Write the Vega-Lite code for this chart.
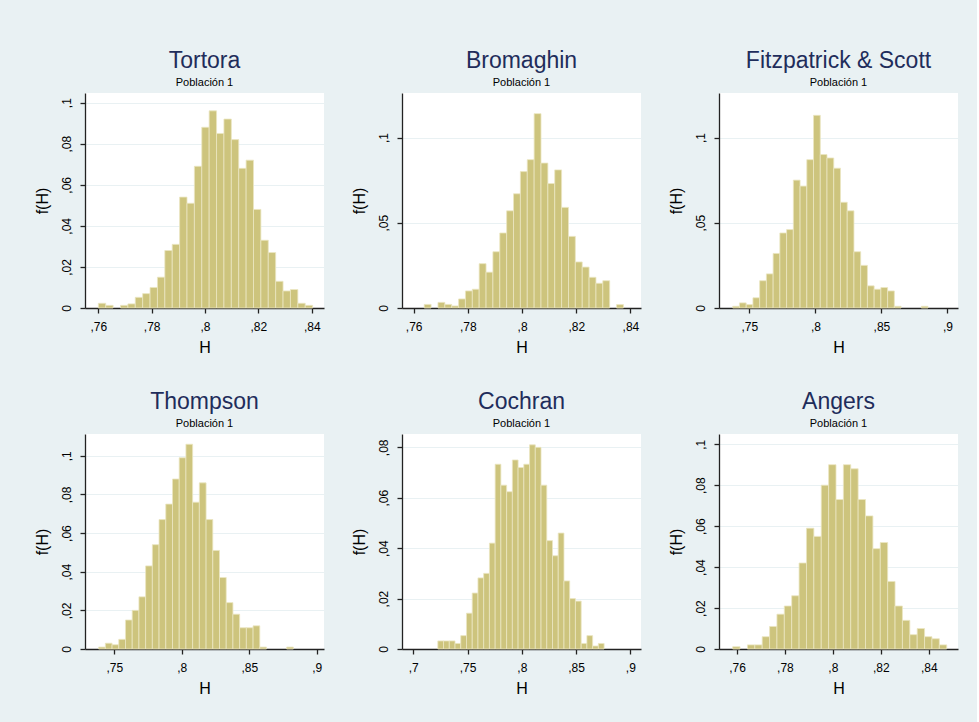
{
  "$schema": "https://vega.github.io/schema/vega-lite/v6.json",
  "padding": {"left": 33, "top": 50, "right": 19, "bottom": 31},
  "background": "#e9f1f3",
  "datasets": {
    "tortora": [
      {"x0": 0.76, "x1": 0.76277, "f": 0.0023},
      {"x0": 0.76277, "x1": 0.76554, "f": 0.0013},
      {"x0": 0.76831, "x1": 0.77108, "f": 0.0013},
      {"x0": 0.77108, "x1": 0.77385, "f": 0.002},
      {"x0": 0.77385, "x1": 0.77662, "f": 0.0052},
      {"x0": 0.77662, "x1": 0.77939, "f": 0.007},
      {"x0": 0.77939, "x1": 0.78216, "f": 0.010},
      {"x0": 0.78216, "x1": 0.78493, "f": 0.015},
      {"x0": 0.78493, "x1": 0.7877, "f": 0.028},
      {"x0": 0.7877, "x1": 0.79047, "f": 0.031},
      {"x0": 0.79047, "x1": 0.79324, "f": 0.054},
      {"x0": 0.79324, "x1": 0.79601, "f": 0.051},
      {"x0": 0.79601, "x1": 0.79878, "f": 0.069},
      {"x0": 0.79878, "x1": 0.80155, "f": 0.088},
      {"x0": 0.80155, "x1": 0.80432, "f": 0.096},
      {"x0": 0.80432, "x1": 0.80709, "f": 0.085},
      {"x0": 0.80709, "x1": 0.80986, "f": 0.092},
      {"x0": 0.80986, "x1": 0.81263, "f": 0.082},
      {"x0": 0.81263, "x1": 0.8154, "f": 0.068},
      {"x0": 0.8154, "x1": 0.81817, "f": 0.072},
      {"x0": 0.81817, "x1": 0.82094, "f": 0.048},
      {"x0": 0.82094, "x1": 0.82371, "f": 0.033},
      {"x0": 0.82371, "x1": 0.82648, "f": 0.027},
      {"x0": 0.82648, "x1": 0.82925, "f": 0.013},
      {"x0": 0.82925, "x1": 0.83202, "f": 0.0083},
      {"x0": 0.83202, "x1": 0.83479, "f": 0.009},
      {"x0": 0.83479, "x1": 0.83756, "f": 0.0023},
      {"x0": 0.83756, "x1": 0.84033, "f": 0.0013}
    ],
    "bromaghin": [
      {"x0": 0.7639, "x1": 0.76644, "f": 0.0021},
      {"x0": 0.76897, "x1": 0.77151, "f": 0.0033},
      {"x0": 0.77151, "x1": 0.77404, "f": 0.0021},
      {"x0": 0.77404, "x1": 0.77658, "f": 0.0012},
      {"x0": 0.77658, "x1": 0.77911, "f": 0.0053},
      {"x0": 0.77911, "x1": 0.78165, "f": 0.010},
      {"x0": 0.78165, "x1": 0.78418, "f": 0.011},
      {"x0": 0.78418, "x1": 0.78672, "f": 0.026},
      {"x0": 0.78672, "x1": 0.78925, "f": 0.021},
      {"x0": 0.78925, "x1": 0.79179, "f": 0.033},
      {"x0": 0.79179, "x1": 0.79432, "f": 0.044},
      {"x0": 0.79432, "x1": 0.79686, "f": 0.057},
      {"x0": 0.79686, "x1": 0.79939, "f": 0.067},
      {"x0": 0.79939, "x1": 0.80193, "f": 0.080},
      {"x0": 0.80193, "x1": 0.80446, "f": 0.087},
      {"x0": 0.80446, "x1": 0.807, "f": 0.114},
      {"x0": 0.807, "x1": 0.80953, "f": 0.085},
      {"x0": 0.80953, "x1": 0.81207, "f": 0.073},
      {"x0": 0.81207, "x1": 0.8146, "f": 0.081},
      {"x0": 0.8146, "x1": 0.81714, "f": 0.059},
      {"x0": 0.81714, "x1": 0.81967, "f": 0.042},
      {"x0": 0.81967, "x1": 0.82221, "f": 0.027},
      {"x0": 0.82221, "x1": 0.82474, "f": 0.024},
      {"x0": 0.82474, "x1": 0.82728, "f": 0.018},
      {"x0": 0.82728, "x1": 0.82981, "f": 0.0145},
      {"x0": 0.82981, "x1": 0.83235, "f": 0.016},
      {"x0": 0.83488, "x1": 0.83742, "f": 0.002}
    ],
    "fitzpatrick": [
      {"x0": 0.7374, "x1": 0.7425, "f": 0.001},
      {"x0": 0.7425, "x1": 0.7476, "f": 0.003},
      {"x0": 0.7476, "x1": 0.7527, "f": 0.002},
      {"x0": 0.7527, "x1": 0.7578, "f": 0.006},
      {"x0": 0.7578, "x1": 0.7629, "f": 0.016},
      {"x0": 0.7629, "x1": 0.768, "f": 0.020},
      {"x0": 0.768, "x1": 0.7731, "f": 0.032},
      {"x0": 0.7731, "x1": 0.7782, "f": 0.044},
      {"x0": 0.7782, "x1": 0.7833, "f": 0.046},
      {"x0": 0.7833, "x1": 0.7884, "f": 0.075},
      {"x0": 0.7884, "x1": 0.7935, "f": 0.0715},
      {"x0": 0.7935, "x1": 0.7986, "f": 0.087},
      {"x0": 0.7986, "x1": 0.8037, "f": 0.113},
      {"x0": 0.8037, "x1": 0.8088, "f": 0.090},
      {"x0": 0.8088, "x1": 0.8139, "f": 0.088},
      {"x0": 0.8139, "x1": 0.819, "f": 0.082},
      {"x0": 0.819, "x1": 0.8241, "f": 0.062},
      {"x0": 0.8241, "x1": 0.8292, "f": 0.057},
      {"x0": 0.8292, "x1": 0.8343, "f": 0.033},
      {"x0": 0.8343, "x1": 0.8394, "f": 0.025},
      {"x0": 0.8394, "x1": 0.8445, "f": 0.013},
      {"x0": 0.8445, "x1": 0.8496, "f": 0.011},
      {"x0": 0.8496, "x1": 0.8547, "f": 0.012},
      {"x0": 0.8547, "x1": 0.8598, "f": 0.010},
      {"x0": 0.8598, "x1": 0.8649, "f": 0.001},
      {"x0": 0.8802, "x1": 0.8853, "f": 0.001}
    ],
    "thompson": [
      {"x0": 0.7384, "x1": 0.74338, "f": 0.001},
      {"x0": 0.74338, "x1": 0.74835, "f": 0.003},
      {"x0": 0.74835, "x1": 0.75333, "f": 0.0022},
      {"x0": 0.75333, "x1": 0.7583, "f": 0.005},
      {"x0": 0.7583, "x1": 0.76328, "f": 0.015},
      {"x0": 0.76328, "x1": 0.76826, "f": 0.020},
      {"x0": 0.76826, "x1": 0.77323, "f": 0.027},
      {"x0": 0.77323, "x1": 0.77821, "f": 0.043},
      {"x0": 0.77821, "x1": 0.78318, "f": 0.054},
      {"x0": 0.78318, "x1": 0.78816, "f": 0.067},
      {"x0": 0.78816, "x1": 0.79314, "f": 0.075},
      {"x0": 0.79314, "x1": 0.79811, "f": 0.088},
      {"x0": 0.79811, "x1": 0.80309, "f": 0.099},
      {"x0": 0.80309, "x1": 0.80806, "f": 0.106},
      {"x0": 0.80806, "x1": 0.81304, "f": 0.076},
      {"x0": 0.81304, "x1": 0.81802, "f": 0.086},
      {"x0": 0.81802, "x1": 0.82299, "f": 0.067},
      {"x0": 0.82299, "x1": 0.82797, "f": 0.051},
      {"x0": 0.82797, "x1": 0.83294, "f": 0.037},
      {"x0": 0.83294, "x1": 0.83792, "f": 0.024},
      {"x0": 0.83792, "x1": 0.8429, "f": 0.018},
      {"x0": 0.8429, "x1": 0.84787, "f": 0.011},
      {"x0": 0.84787, "x1": 0.85285, "f": 0.011},
      {"x0": 0.85285, "x1": 0.85782, "f": 0.012},
      {"x0": 0.85782, "x1": 0.8628, "f": 0.001},
      {"x0": 0.87773, "x1": 0.8827, "f": 0.001}
    ],
    "cochran": [
      {"x0": 0.7226, "x1": 0.72788, "f": 0.0032},
      {"x0": 0.72788, "x1": 0.73317, "f": 0.0032},
      {"x0": 0.73317, "x1": 0.73845, "f": 0.0032},
      {"x0": 0.73845, "x1": 0.74373, "f": 0.0022},
      {"x0": 0.74373, "x1": 0.74902, "f": 0.0053},
      {"x0": 0.74902, "x1": 0.7543, "f": 0.0142},
      {"x0": 0.7543, "x1": 0.75958, "f": 0.0222},
      {"x0": 0.75958, "x1": 0.76486, "f": 0.0282},
      {"x0": 0.76486, "x1": 0.77015, "f": 0.030},
      {"x0": 0.77015, "x1": 0.77543, "f": 0.042},
      {"x0": 0.77543, "x1": 0.78071, "f": 0.0733},
      {"x0": 0.78071, "x1": 0.786, "f": 0.065},
      {"x0": 0.786, "x1": 0.79128, "f": 0.0624},
      {"x0": 0.79128, "x1": 0.79656, "f": 0.075},
      {"x0": 0.79656, "x1": 0.80185, "f": 0.072},
      {"x0": 0.80185, "x1": 0.80713, "f": 0.0733},
      {"x0": 0.80713, "x1": 0.81241, "f": 0.081},
      {"x0": 0.81241, "x1": 0.81769, "f": 0.080},
      {"x0": 0.81769, "x1": 0.82298, "f": 0.065},
      {"x0": 0.82298, "x1": 0.82826, "f": 0.043},
      {"x0": 0.82826, "x1": 0.83354, "f": 0.037},
      {"x0": 0.83354, "x1": 0.83883, "f": 0.046},
      {"x0": 0.83883, "x1": 0.84411, "f": 0.027},
      {"x0": 0.84411, "x1": 0.84939, "f": 0.020},
      {"x0": 0.84939, "x1": 0.85468, "f": 0.019},
      {"x0": 0.85468, "x1": 0.85996, "f": 0.0022},
      {"x0": 0.85996, "x1": 0.86524, "f": 0.0053},
      {"x0": 0.86524, "x1": 0.87052, "f": 0.0012},
      {"x0": 0.87052, "x1": 0.87581, "f": 0.0022}
    ],
    "angers": [
      {"x0": 0.7582, "x1": 0.76128, "f": 0.0011},
      {"x0": 0.76436, "x1": 0.76744, "f": 0.002},
      {"x0": 0.76744, "x1": 0.77052, "f": 0.002},
      {"x0": 0.77052, "x1": 0.7736, "f": 0.006},
      {"x0": 0.7736, "x1": 0.77667, "f": 0.011},
      {"x0": 0.77667, "x1": 0.77975, "f": 0.017},
      {"x0": 0.77975, "x1": 0.78283, "f": 0.021},
      {"x0": 0.78283, "x1": 0.78591, "f": 0.026},
      {"x0": 0.78591, "x1": 0.78899, "f": 0.042},
      {"x0": 0.78899, "x1": 0.79207, "f": 0.059},
      {"x0": 0.79207, "x1": 0.79515, "f": 0.055},
      {"x0": 0.79515, "x1": 0.79823, "f": 0.080},
      {"x0": 0.79823, "x1": 0.80131, "f": 0.090},
      {"x0": 0.80131, "x1": 0.80439, "f": 0.073},
      {"x0": 0.80439, "x1": 0.80746, "f": 0.090},
      {"x0": 0.80746, "x1": 0.81054, "f": 0.088},
      {"x0": 0.81054, "x1": 0.81362, "f": 0.073},
      {"x0": 0.81362, "x1": 0.8167, "f": 0.065},
      {"x0": 0.8167, "x1": 0.81978, "f": 0.049},
      {"x0": 0.81978, "x1": 0.82286, "f": 0.052},
      {"x0": 0.82286, "x1": 0.82594, "f": 0.033},
      {"x0": 0.82594, "x1": 0.82902, "f": 0.021},
      {"x0": 0.82902, "x1": 0.8321, "f": 0.014},
      {"x0": 0.8321, "x1": 0.83518, "f": 0.007},
      {"x0": 0.83518, "x1": 0.83825, "f": 0.010},
      {"x0": 0.83825, "x1": 0.84133, "f": 0.006},
      {"x0": 0.84133, "x1": 0.84441, "f": 0.005},
      {"x0": 0.84441, "x1": 0.84749, "f": 0.002}
    ]
  },
  "columns": 3,
  "spacing": {"row": 126, "column": 78},
  "bounds": "flush",
  "concat": [
    {
      "title": {"text": "Tortora", "subtitle": "Población 1"},
      "width": 239, "height": 215,
      "data": {"name": "tortora"},
      "mark": "bar",
      "encoding": {
        "x": {"field": "x0", "type": "quantitative", "scale": {"domain": [0.755, 0.8446], "nice": false, "zero": false}, "axis": {"values": [0.76, 0.78, 0.8, 0.82, 0.84], "title": "H"}},
        "x2": {"field": "x1"},
        "y": {"field": "f", "type": "quantitative", "scale": {"domain": [0, 0.1047], "nice": false}, "axis": {"values": [0, 0.02, 0.04, 0.06, 0.08, 0.1], "title": "f(H)"}},
        "y2": {"datum": 0}
      }
    },
    {
      "title": {"text": "Bromaghin", "subtitle": "Población 1"},
      "width": 239, "height": 215,
      "data": {"name": "bromaghin"},
      "mark": "bar",
      "encoding": {
        "x": {"field": "x0", "type": "quantitative", "scale": {"domain": [0.7557, 0.8439], "nice": false, "zero": false}, "axis": {"values": [0.76, 0.78, 0.8, 0.82, 0.84], "title": "H"}},
        "x2": {"field": "x1"},
        "y": {"field": "f", "type": "quantitative", "scale": {"domain": [0, 0.1261], "nice": false}, "axis": {"values": [0, 0.05, 0.1], "title": "f(H)"}},
        "y2": {"datum": 0}
      }
    },
    {
      "title": {"text": "Fitzpatrick & Scott", "subtitle": "Población 1"},
      "width": 239, "height": 215,
      "data": {"name": "fitzpatrick"},
      "mark": "bar",
      "encoding": {
        "x": {"field": "x0", "type": "quantitative", "scale": {"domain": [0.727, 0.908], "nice": false, "zero": false}, "axis": {"values": [0.75, 0.8, 0.85, 0.9], "title": "H"}},
        "x2": {"field": "x1"},
        "y": {"field": "f", "type": "quantitative", "scale": {"domain": [0, 0.1261], "nice": false}, "axis": {"values": [0, 0.05, 0.1], "title": "f(H)"}},
        "y2": {"datum": 0}
      }
    },
    {
      "title": {"text": "Thompson", "subtitle": "Población 1"},
      "width": 239, "height": 215,
      "data": {"name": "thompson"},
      "mark": "bar",
      "encoding": {
        "x": {"field": "x0", "type": "quantitative", "scale": {"domain": [0.7283, 0.9054], "nice": false, "zero": false}, "axis": {"values": [0.75, 0.8, 0.85, 0.9], "title": "H"}},
        "x2": {"field": "x1"},
        "y": {"field": "f", "type": "quantitative", "scale": {"domain": [0, 0.1113], "nice": false}, "axis": {"values": [0, 0.02, 0.04, 0.06, 0.08, 0.1], "title": "f(H)"}},
        "y2": {"datum": 0}
      }
    },
    {
      "title": {"text": "Cochran", "subtitle": "Población 1"},
      "width": 239, "height": 215,
      "data": {"name": "cochran"},
      "mark": "bar",
      "encoding": {
        "x": {"field": "x0", "type": "quantitative", "scale": {"domain": [0.6896, 0.9098], "nice": false, "zero": false}, "axis": {"values": [0.7, 0.75, 0.8, 0.85, 0.9], "title": "H"}},
        "x2": {"field": "x1"},
        "y": {"field": "f", "type": "quantitative", "scale": {"domain": [0, 0.0853], "nice": false}, "axis": {"values": [0, 0.02, 0.04, 0.06, 0.08], "title": "f(H)"}},
        "y2": {"datum": 0}
      }
    },
    {
      "title": {"text": "Angers", "subtitle": "Población 1"},
      "width": 239, "height": 215,
      "data": {"name": "angers"},
      "mark": "bar",
      "encoding": {
        "x": {"field": "x0", "type": "quantitative", "scale": {"domain": [0.7525, 0.8522], "nice": false, "zero": false}, "axis": {"values": [0.76, 0.78, 0.8, 0.82, 0.84], "title": "H"}},
        "x2": {"field": "x1"},
        "y": {"field": "f", "type": "quantitative", "scale": {"domain": [0, 0.105], "nice": false}, "axis": {"values": [0, 0.02, 0.04, 0.06, 0.08, 0.1], "title": "f(H)"}},
        "y2": {"datum": 0}
      }
    }
  ],
  "config": {
    "font": "Liberation Sans",
    "view": {"fill": "white", "stroke": null},
    "title": {"fontSize": 23, "fontWeight": "normal", "color": "#1f2d5b", "subtitleFontSize": 11, "subtitleFontWeight": "normal", "subtitleColor": "#000000", "subtitleFont": "Liberation Sans", "font": "Liberation Sans", "anchor": "middle", "frame": "group", "offset": 5, "subtitlePadding": 4},
    "axis": {
      "domainColor": "#222222", "domainWidth": 1.3, "tickColor": "#222222", "tickWidth": 1.3, "tickSize": 5,
      "labelFont": "Liberation Sans", "labelFontSize": 12, "labelColor": "#000000", "labelFlush": false, "labelOverlap": false,
      "titleFont": "Liberation Sans", "titleFontSize": 16, "titleFontWeight": "normal", "titleColor": "#000000",
      "labelExpr": "datum.value == 0 ? '0' : replace(format(datum.value, '~g'), '0.', ',')",
      "gridColor": "#e9f1f3", "gridWidth": 1.2
    },
    "axisX": {"grid": false, "labelPadding": 8, "titlePadding": 7},
    "axisY": {"grid": true, "labelAngle": -90, "labelPadding": 7, "titlePadding": 10},
    "bar": {"fill": "#cdc47d", "stroke": "#ebe6c2", "strokeWidth": 0.8}
  }
}
